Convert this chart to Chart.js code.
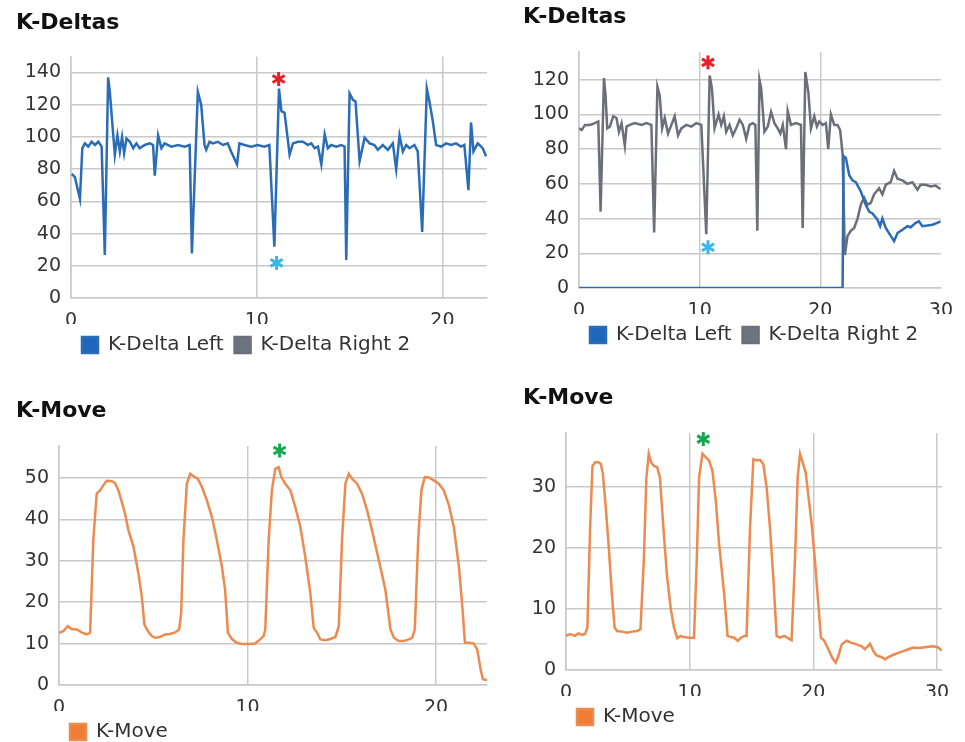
<!DOCTYPE html>
<html>
<head>
<meta charset="utf-8">
<script src="https://cdn.jsdelivr.net/npm/chart.js@4.4.1/dist/chart.umd.min.js"></script>
<style>
    html, body { margin: 0; padding: 0; background: #fff; overflow: hidden; }
    canvas { position: absolute; }
</style>
</head>
<body>
<canvas id="deltaA" width="490" height="365" style="left:0;top:0"></canvas>
<canvas id="deltaB" width="475" height="355" style="left:490px;top:0"></canvas>
<canvas id="moveA" width="490" height="382" style="left:0;top:370px"></canvas>
<canvas id="moveB" width="475" height="367" style="left:490px;top:370px"></canvas>
<script>
// ---- data (x = seconds) ----

// left session, K-Delta Left
const deltaLeftAX = [0.04, 0.21, 0.48, 0.61, 0.75, 0.93, 1.11, 1.29, 1.47, 1.65, 1.82, 2.0, 2.09, 2.36, 2.5, 2.63, 2.75, 2.86, 2.99, 3.17, 3.35, 3.52, 3.7, 3.97, 4.24, 4.42, 4.51, 4.69, 4.87, 5.04, 5.4, 5.76, 6.12, 6.39, 6.51, 6.83, 7.01, 7.19, 7.28, 7.46, 7.64, 7.91, 8.18, 8.44, 8.62, 8.94, 9.07, 9.34, 9.7, 10.05, 10.41, 10.68, 10.95, 11.2, 11.33, 11.5, 11.77, 11.95, 12.22, 12.49, 12.76, 12.94, 13.12, 13.3, 13.48, 13.66, 13.83, 14.01, 14.28, 14.55, 14.73, 14.82, 15.0, 15.18, 15.32, 15.54, 15.81, 16.08, 16.34, 16.52, 16.79, 17.06, 17.33, 17.51, 17.69, 17.87, 18.05, 18.23, 18.49, 18.67, 18.91, 19.16, 19.3, 19.48, 19.66, 19.93, 20.2, 20.47, 20.73, 21.0, 21.18, 21.4, 21.54, 21.67, 21.9, 22.17, 22.35];
const deltaLeftAY = [77, 75, 61.5, 93, 96, 94, 97, 95, 97, 94, 26.7, 137, 128, 89, 101, 91, 100, 90, 99, 97, 93, 96, 93, 95, 96, 95, 76, 101, 93, 96, 94, 95, 94, 95, 27.7, 128, 120, 95, 92, 97, 96, 97, 95, 96, 91, 83, 96, 95, 94, 95, 94, 95, 31.8, 130, 116, 115, 89, 96, 97, 97, 95, 96, 93, 94, 83, 101.5, 93, 95, 94, 95, 94, 23.6, 127, 123, 122, 85, 99.5, 96, 95, 92, 95, 92, 96, 80, 101, 91, 95, 93, 95, 91, 41, 130, 122, 110, 95, 94, 96, 95, 96, 94, 95, 67, 109, 91, 96, 93, 88];

// right session, K-Delta Left
const deltaLeftBX = [0, 21.85, 21.93, 22.12, 22.4, 22.67, 22.95, 23.36, 23.77, 24.05, 24.33, 24.74, 24.96, 25.15, 25.43, 25.84, 26.12, 26.4, 26.81, 27.22, 27.5, 27.91, 28.18, 28.46, 28.87, 29.29, 29.7, 29.97];
const deltaLeftBY = [0, 0, 76, 75, 65, 62, 61, 55.6, 48, 44, 43, 39.4, 35.6, 40, 34.6, 30, 27, 31.7, 33.6, 35.6, 35, 37.5, 38.4, 35.6, 36, 36.5, 37.5, 38.4];

// right session, K-Delta Right 2
const deltaRightBX = [0, 0.22, 0.5, 0.91, 1.32, 1.6, 1.79, 2.07, 2.2, 2.34, 2.56, 2.84, 3.11, 3.31, 3.53, 3.8, 3.94, 4.21, 4.63, 5.18, 5.59, 6.0, 6.23, 6.5, 6.69, 6.89, 7.11, 7.38, 7.66, 7.93, 8.21, 8.48, 8.9, 9.31, 9.72, 10.14, 10.55, 10.83, 11.02, 11.24, 11.57, 11.79, 12.01, 12.2, 12.48, 12.75, 13.03, 13.31, 13.58, 13.86, 14.13, 14.41, 14.62, 14.78, 14.96, 15.1, 15.37, 15.65, 15.92, 16.2, 16.47, 16.69, 16.89, 17.16, 17.3, 17.57, 17.99, 18.4, 18.54, 18.76, 19.01, 19.23, 19.5, 19.72, 19.92, 20.19, 20.47, 20.66, 20.88, 21.16, 21.43, 21.65, 21.85, 22.04, 22.26, 22.53, 22.81, 23.09, 23.36, 23.64, 23.91, 24.19, 24.46, 24.88, 25.15, 25.43, 25.84, 26.12, 26.4, 26.81, 27.22, 27.64, 28.05, 28.32, 28.73, 29.15, 29.56, 29.97];
const deltaRightBY = [92, 91, 94, 94, 95, 96, 44, 121, 111, 92, 93, 99, 98, 90, 95, 82, 93, 94, 95, 94, 95, 94, 32, 116, 111, 92, 98, 89, 94, 99, 88, 92, 94, 93, 95, 94, 31, 122.5, 115, 92, 100, 94, 99, 90, 94, 88, 92, 97, 94, 86, 94, 95, 94, 33, 120, 115, 90, 93, 101.5, 95, 92, 89, 94, 80, 102, 94, 95, 94, 34.6, 124.5, 113, 92, 99, 93, 96, 94, 95, 80, 100, 94, 94, 91, 77, 19, 30, 33, 34.6, 40, 48, 52, 48, 49, 54, 57.5, 54, 59.5, 61, 67.5, 63, 62, 60, 61, 56.6, 59.5, 59.5, 58.5, 59, 57];

// left session, K-Move
const moveAX = [0, 0.23, 0.46, 0.67, 0.94, 1.2, 1.47, 1.65, 1.82, 2.0, 2.18, 2.35, 2.53, 2.8, 2.97, 3.15, 3.33, 3.5, 3.68, 3.95, 4.21, 4.39, 4.53, 4.71, 4.92, 5.1, 5.36, 5.63, 5.89, 6.16, 6.37, 6.48, 6.6, 6.78, 6.96, 7.13, 7.36, 7.58, 7.84, 8.11, 8.37, 8.64, 8.81, 8.96, 9.17, 9.43, 9.7, 10.05, 10.4, 10.67, 10.85, 10.94, 11.12, 11.29, 11.47, 11.65, 11.79, 12.0, 12.27, 12.53, 12.8, 13.06, 13.33, 13.51, 13.69, 13.86, 14.13, 14.39, 14.66, 14.84, 15.01, 15.19, 15.37, 15.54, 15.81, 16.07, 16.34, 16.6, 16.96, 17.31, 17.58, 17.76, 18.02, 18.29, 18.55, 18.73, 18.87, 19.05, 19.22, 19.4, 19.61, 19.88, 20.14, 20.41, 20.68, 20.94, 21.21, 21.39, 21.53, 21.74, 22.0, 22.18, 22.36, 22.48, 22.71];
const moveAY = [12.6, 13, 14.2, 13.5, 13.4, 12.7, 12.2, 12.6, 35, 46.2, 47, 48.2, 49.3, 49.2, 48.8, 47, 44.2, 41.4, 37.4, 33.4, 27, 21.4, 14.6, 13, 11.8, 11.4, 11.6, 12.2, 12.3, 12.7, 13.4, 17.4, 35, 48.6, 51, 50.4, 49.8, 47.8, 44.6, 40.6, 35, 28.6, 23, 12.6, 11.1, 10.2, 9.9, 9.9, 10, 11, 11.8, 13.4, 35, 47, 52.2, 52.6, 50.2, 48.6, 47, 43, 38.2, 31, 22.2, 13.8, 12.6, 11, 10.8, 11.1, 11.6, 14.2, 35, 48.6, 51, 49.8, 48.6, 46.2, 42.2, 37.4, 30.2, 23, 13.4, 11.4, 10.6, 10.6, 11, 11.4, 13.4, 35, 47, 50.2, 50.1, 49.4, 48.6, 47, 43.4, 38.2, 28.6, 19, 10.2, 10.2, 10, 8.6, 3.8, 1.4, 1.2];

// right session, K-Move
const moveBX = [0, 0.33, 0.73, 1.0, 1.27, 1.54, 1.73, 1.95, 2.14, 2.36, 2.63, 2.82, 2.98, 3.17, 3.44, 3.71, 3.93, 4.12, 4.53, 4.93, 5.34, 5.75, 6.02, 6.29, 6.5, 6.69, 6.88, 7.1, 7.37, 7.59, 7.78, 7.97, 8.18, 8.46, 8.73, 9.0, 9.27, 9.54, 9.95, 10.35, 10.57, 10.76, 11.03, 11.3, 11.57, 11.84, 12.11, 12.38, 12.79, 13.06, 13.33, 13.6, 13.88, 14.15, 14.42, 14.6, 14.88, 15.15, 15.41, 15.68, 15.95, 16.22, 16.49, 16.76, 17.03, 17.3, 17.65, 17.97, 18.24, 18.51, 18.73, 18.92, 19.18, 19.38, 19.64, 19.86, 20.13, 20.4, 20.61, 20.88, 21.21, 21.53, 21.8, 22.02, 22.29, 22.69, 23.04, 23.5, 23.9, 24.17, 24.58, 24.85, 25.11, 25.52, 25.79, 26.06, 26.46, 26.87, 27.27, 27.68, 28.08, 28.49, 28.89, 29.3, 29.7, 30.1, 30.37];
const moveBY = [5.6, 5.9, 5.6, 6, 5.8, 5.9, 7, 23.4, 33.5, 34.1, 34.1, 33.8, 32.2, 27.8, 20.7, 12.4, 7, 6.4, 6.3, 6.1, 6.3, 6.4, 6.7, 17.9, 31.6, 35.5, 34.1, 33.5, 33.3, 31.6, 26.1, 20.7, 15.2, 10.2, 7, 5.2, 5.6, 5.4, 5.3, 5.3, 17.9, 31.6, 35.5, 34.9, 34.4, 32.7, 27.8, 20.7, 12.4, 5.6, 5.4, 5.3, 4.8, 5.3, 5.6, 5.6, 23.4, 34.6, 34.4, 34.5, 33.8, 30, 23.4, 15.2, 5.6, 5.3, 5.6, 5.2, 4.9, 17.9, 31.6, 35.5, 33.8, 32.4, 27.8, 24, 17.9, 10.8, 5.3, 4.8, 3.4, 2.0, 1.2, 2.3, 4.2, 4.8, 4.5, 4.2, 3.9, 3.4, 4.3, 3.1, 2.4, 2.1, 1.75, 2.1, 2.5, 2.8, 3.1, 3.4, 3.7, 3.6, 3.7, 3.8, 3.9, 3.7, 3.2];

// asterisk markers: [x, y]
const redStarA = [11.18, 136];
const cyanStarA = [11.07, 21.8];
const redStarB = [10.69, 130];
const cyanStarB = [10.69, 23.5];
const greenStarA = [11.7, 56.6];
const greenStarB = [11.1, 37.9];

// tick values
const deltaATicksX = [0, 10, 20];
const deltaATicksY = [0, 20, 40, 60, 80, 100, 120, 140];
const deltaBTicksX = [0, 10, 20, 30];
const deltaBTicksY = [0, 20, 40, 60, 80, 100, 120];
const moveATicksX = [0, 10, 20];
const moveATicksY = [0, 10, 20, 30, 40, 50];
const moveBTicksX = [0, 10, 20, 30];
const moveBTicksY = [0, 10, 20, 30];

// ---- styling ----
const FONT = '"DejaVu Sans", Verdana, sans-serif';
const GRID = '#c9c9c9';
const blue = '#2a6db6';
const gray = '#6a6f7a';
const orange = '#ec8b4f';

const toPoints = (xs, ys) => xs.map((x, i) => ({ x: x, y: ys[i] }));

// draws the small asterisks at data positions
const starPlugin = {
    id: 'stars',
    afterDatasetsDraw(chart, args, opts) {
        const ctx = chart.ctx;
        const xs = chart.scales.x, ys = chart.scales.y;
        (opts.marks || []).forEach(m => {
            const px = xs.getPixelForValue(m.at[0]);
            const py = ys.getPixelForValue(m.at[1]);
            const r = 7;
            ctx.save();
            ctx.strokeStyle = m.color;
            ctx.lineWidth = 3;
            [90, 30, 150].forEach(a => {
                const rad = a * Math.PI / 180;
                ctx.beginPath();
                ctx.moveTo(px - r * Math.cos(rad), py - r * Math.sin(rad));
                ctx.lineTo(px + r * Math.cos(rad), py + r * Math.sin(rad));
                ctx.stroke();
            });
            ctx.restore();
        });
    }
};

function lineSet(label, color, legendColor, points) {
    return {
        label: label,
        data: points,
        borderColor: color,
        backgroundColor: legendColor,
        borderWidth: 2.5,
        pointRadius: 0,
        tension: 0
    };
}

function makeChart(id, cfg) {
    const hidden = cfg.hideXGrid || [];
    return new Chart(document.getElementById(id), {
        type: 'line',
        data: { datasets: cfg.datasets },
        options: {
            responsive: false,
            animation: false,
            layout: { padding: { left: cfg.padLeft, right: cfg.padRight, top: 0, bottom: 0 } },
            plugins: {
                title: {
                    display: true,
                    text: cfg.title,
                    align: 'start',
                    color: '#111',
                    font: { family: FONT, size: 22, weight: 'bold' },
                    padding: { top: cfg.titleTop, bottom: cfg.titleBottom }
                },
                legend: {
                    position: 'bottom',
                    align: 'start',
                    fullSize: false,
                    labels: {
                        boxWidth: 16,
                        boxHeight: 16,
                        padding: 11,
                        color: '#333',
                        font: { family: FONT, size: 20 }
                    }
                },
                tooltip: { enabled: false },
                stars: { marks: cfg.stars }
            },
            scales: {
                x: {
                    type: 'linear',
                    min: 0,
                    max: cfg.xMax,
                    afterBuildTicks: s => { s.ticks = cfg.xTicks.map(v => ({ value: v })); },
                    afterFit: s => { s.height = 26; },
                    grid: {
                        drawTicks: false,
                        lineWidth: 1.5,
                        color: c => hidden.includes(c.tick && c.tick.value) ? 'rgba(0,0,0,0)' : GRID
                    },
                    border: { color: GRID, width: 1.5 },
                    ticks: { padding: 12, color: '#333', font: { family: FONT, size: 19 }, maxRotation: 0 }
                },
                y: {
                    min: 0,
                    max: cfg.yMax,
                    afterBuildTicks: s => { s.ticks = cfg.yTicks.map(v => ({ value: v })); },
                    afterFit: s => { s.width = cfg.yWidth; },
                    grid: { drawTicks: false, lineWidth: 1.5, color: GRID },
                    border: { color: GRID, width: 1.5 },
                    ticks: { padding: 10, color: '#333', font: { family: FONT, size: 19 } }
                }
            }
        },
        plugins: [starPlugin]
    });
}

makeChart('deltaA', {
    title: 'K-Deltas',
    padLeft: 16, padRight: 3, yWidth: 55,
    titleTop: 10, titleBottom: 20,
    xMax: 22.4, yMax: 150,
    xTicks: deltaATicksX, yTicks: deltaATicksY,
    datasets: [
        lineSet('K-Delta Left', blue, '#1f66bd', toPoints(deltaLeftAX, deltaLeftAY)),
        lineSet('K-Delta Right 2', gray, '#6e7380', [])
    ],
    stars: [{ at: redStarA, color: '#e8202a' }, { at: cyanStarA, color: '#3db5e8' }]
});

makeChart('deltaB', {
    title: 'K-Deltas',
    padLeft: 33, padRight: 23, yWidth: 56,
    titleTop: 4, titleBottom: 21.6,
    xMax: 30, yMax: 136,
    xTicks: deltaBTicksX, yTicks: deltaBTicksY,
    hideXGrid: [30],
    datasets: [
        lineSet('K-Delta Left', blue, '#1f66bd', toPoints(deltaLeftBX, deltaLeftBY)),
        lineSet('K-Delta Right 2', gray, '#6e7380', toPoints(deltaRightBX, deltaRightBY))
    ],
    stars: [{ at: redStarB, color: '#e8202a' }, { at: cyanStarB, color: '#3db5e8' }]
});

makeChart('moveA', {
    title: 'K-Move',
    padLeft: 16, padRight: 3, yWidth: 43,
    titleTop: 28, titleBottom: 21.6,
    xMax: 22.7, yMax: 57.7,
    xTicks: moveATicksX, yTicks: moveATicksY,
    datasets: [
        lineSet('K-Move', orange, '#f07d35', toPoints(moveAX, moveAY))
    ],
    stars: [{ at: greenStarA, color: '#19a652' }]
});

makeChart('moveB', {
    title: 'K-Move',
    padLeft: 33, padRight: 23, yWidth: 43,
    titleTop: 15, titleBottom: 21.6,
    xMax: 30.4, yMax: 38.9,
    xTicks: moveBTicksX, yTicks: moveBTicksY,
    datasets: [
        lineSet('K-Move', orange, '#f07d35', toPoints(moveBX, moveBY))
    ],
    stars: [{ at: greenStarB, color: '#19a652' }]
});
</script>
</body>
</html>
